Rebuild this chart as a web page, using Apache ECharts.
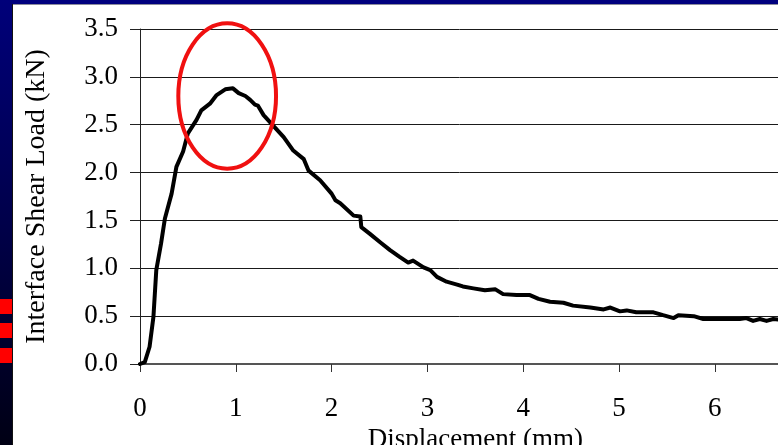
<!DOCTYPE html>
<html>
<head>
<meta charset="utf-8">
<script src="https://cdn.jsdelivr.net/npm/echarts@6/dist/echarts.min.js"></script>
<style>
  html, body { margin: 0; padding: 0; background: #ffffff; }
  #chart { width: 778px; height: 445px; }
</style>
</head>
<body>
<div id="chart"></div>
<script>
// Displacement (mm) and interface shear load (kN) of the push-off test
const displacement = [
  0, 0.05, 0.10, 0.14, 0.17, 0.22, 0.26, 0.33, 0.38, 0.45,
  0.50, 0.59, 0.64, 0.73, 0.80, 0.89, 0.97, 1.03, 1.10, 1.15,
  1.20, 1.23, 1.29, 1.39, 1.50, 1.60, 1.71, 1.76, 1.88, 2.00,
  2.04, 2.09, 2.23, 2.30, 2.31, 2.40, 2.51, 2.61, 2.71, 2.80,
  2.85, 2.96, 3.03, 3.10, 3.20, 3.31, 3.37, 3.48, 3.60, 3.71,
  3.79, 3.93, 4.07, 4.16, 4.28, 4.42, 4.52, 4.70, 4.84, 4.91,
  5.01, 5.08, 5.18, 5.36, 5.46, 5.57, 5.62, 5.78, 5.88, 6.26,
  6.33, 6.40, 6.47, 6.54, 6.61, 6.70
];
const shearLoad = [
  0, 0.02, 0.18, 0.49, 0.98, 1.26, 1.52, 1.78, 2.06, 2.22,
  2.41, 2.55, 2.65, 2.72, 2.81, 2.87, 2.88, 2.83, 2.80, 2.76,
  2.71, 2.70, 2.60, 2.49, 2.37, 2.23, 2.14, 2.02, 1.92, 1.78,
  1.71, 1.68, 1.55, 1.54, 1.43, 1.36, 1.27, 1.19, 1.12, 1.06,
  1.08, 1.01, 0.98, 0.91, 0.86, 0.83, 0.81, 0.79, 0.77, 0.78,
  0.73, 0.72, 0.72, 0.68, 0.65, 0.64, 0.61, 0.59, 0.57, 0.59,
  0.55, 0.56, 0.54, 0.54, 0.51, 0.48, 0.51, 0.50, 0.47, 0.47,
  0.48, 0.45, 0.47, 0.45, 0.47, 0.46
];
const xTicks = ['0', '1', '2', '3', '4', '5', '6'];
const yTicks = ['0.0', '0.5', '1.0', '1.5', '2.0', '2.5', '3.0', '3.5'];

// Peak region highlight (centre and half-axes in data units)
const peakCentre = [0.91, 2.80];
const peakHalfAxes = [0.51, 0.76];

const points = displacement.map((d, i) => [d, shearLoad[i]]);
const serif = '"Liberation Serif", "Times New Roman", serif';

const chart = echarts.init(document.getElementById('chart'), null, { renderer: 'canvas' });

// Slide frame: navy bands on top and left with the red markers
const frame = [
  { type: 'rect', shape: { x: 0, y: 0, width: 778, height: 5 }, style: { fill: '#00007e' }, z: 100 },
  { type: 'rect', shape: { x: 0, y: 4, width: 778, height: 1 }, style: { fill: '#8c8c9c' }, z: 101 },
  {
    type: 'rect', shape: { x: 0, y: 0, width: 13, height: 445 }, z: 102,
    style: {
      fill: new echarts.graphic.LinearGradient(0, 0, 0, 1, [
        { offset: 0, color: '#00007a' },
        { offset: 0.5, color: '#00004a' },
        { offset: 1, color: '#000014' }
      ])
    }
  },
  { type: 'rect', shape: { x: 12, y: 4, width: 1, height: 441 }, style: { fill: '#111111' }, z: 103 },
  { type: 'rect', shape: { x: 0, y: 299, width: 12, height: 15 }, style: { fill: '#ff0000' }, z: 104 },
  { type: 'rect', shape: { x: 0, y: 323, width: 12, height: 15 }, style: { fill: '#ff0000' }, z: 104 },
  { type: 'rect', shape: { x: 0, y: 348, width: 12, height: 15 }, style: { fill: '#ff0000' }, z: 104 }
];

chart.setOption({
  animation: false,
  backgroundColor: '#ffffff',
  grid: {
    left: 140,
    top: 29,
    bottom: 81,
    width: 670.6,
    containLabel: false,
    outerBoundsMode: 'none'
  },
  xAxis: {
    type: 'value',
    min: 0,
    max: 7,
    interval: 1,
    name: 'Displacement (mm)',
    nameLocation: 'middle',
    nameGap: 57,
    nameTextStyle: { fontFamily: serif, fontSize: 27, color: '#000' },
    axisLine: { show: true, onZero: false, lineStyle: { color: '#555555', width: 2 } },
    axisTick: { show: true, inside: false, length: 8, lineStyle: { color: '#333333', width: 1 } },
    axisLabel: {
      fontFamily: serif, fontSize: 27, color: '#000', margin: 31,
      formatter: v => (v < xTicks.length ? xTicks[v] : '')
    },
    splitLine: { show: false }
  },
  yAxis: {
    type: 'value',
    min: 0,
    max: 3.5,
    interval: 0.5,
    name: 'Interface Shear Load (kN)',
    nameLocation: 'middle',
    nameGap: 89,
    nameRotate: 90,
    nameTextStyle: { fontFamily: serif, fontSize: 28, color: '#000' },
    axisLine: { show: true, lineStyle: { color: '#222222', width: 1 } },
    axisTick: { show: true, inside: false, length: 10, lineStyle: { color: '#222222', width: 1 } },
    axisLabel: {
      fontFamily: serif, fontSize: 27, color: '#000', margin: 22,
      formatter: v => yTicks[Math.round(v / 0.5)]
    },
    splitLine: { show: true, lineStyle: { color: '#1a1a1a', width: 1 } }
  },
  series: [{
    type: 'line',
    data: points,
    showSymbol: false,
    smooth: false,
    clip: true,
    lineStyle: { color: '#000000', width: 4, join: 'round', cap: 'round' }
  }],
  graphic: frame
});

// Red ellipse around the peak, placed from data coordinates
const c = chart.convertToPixel({ gridIndex: 0 }, peakCentre);
const edge = chart.convertToPixel({ gridIndex: 0 }, [peakCentre[0] + peakHalfAxes[0], peakCentre[1] + peakHalfAxes[1]]);
chart.setOption({
  graphic: frame.concat([{
    type: 'ellipse',
    shape: { cx: c[0], cy: c[1], rx: Math.abs(edge[0] - c[0]), ry: Math.abs(c[1] - edge[1]) },
    style: { fill: 'none', stroke: '#f01010', lineWidth: 4 },
    z: 50
  }])
});
</script>
</body>
</html>
